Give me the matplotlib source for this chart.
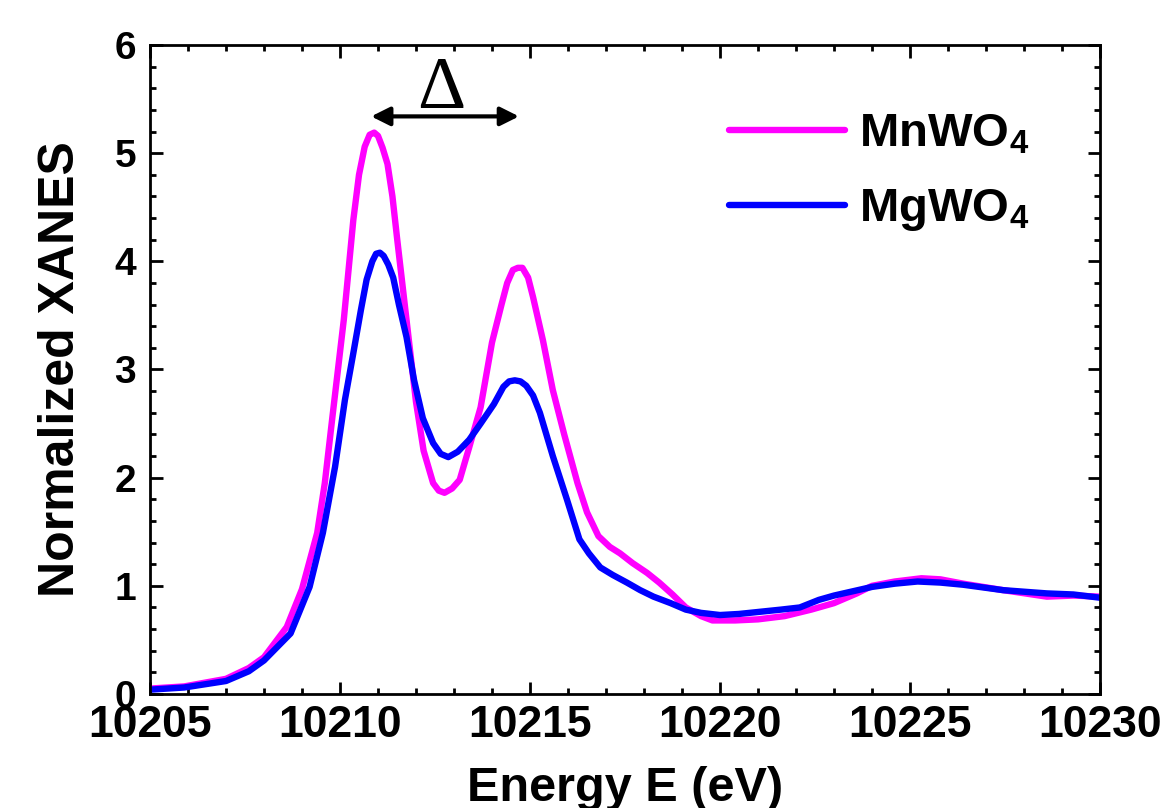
import numpy as np
import matplotlib
matplotlib.use('Agg')
from matplotlib import pyplot as plt
from matplotlib.ticker import MultipleLocator

# Fonts: bold Arial-like everywhere, mathtext subscripts in the same face
plt.rcParams['font.family'] = 'Liberation Sans'
plt.rcParams['font.weight'] = 'bold'
plt.rcParams['mathtext.fontset'] = 'custom'
plt.rcParams['mathtext.rm'] = 'Liberation Sans:bold'
plt.rcParams['mathtext.bf'] = 'Liberation Sans:bold'
plt.rcParams['mathtext.it'] = 'Liberation Sans:bold'

# Data
energy_mn = [10205.0, 10205.9, 10207.0, 10207.6, 10208.0, 10208.6, 10209.0, 10209.4,
             10209.6, 10209.8, 10210.1, 10210.35, 10210.5, 10210.65, 10210.78, 10210.9,
             10211.0, 10211.12, 10211.25, 10211.38, 10211.5, 10211.75, 10212.0, 10212.2,
             10212.45, 10212.6, 10212.75, 10212.95, 10213.15, 10213.4, 10213.7, 10214.0,
             10214.25, 10214.4, 10214.55, 10214.68, 10214.8, 10214.95, 10215.08, 10215.34,
             10215.6, 10215.9, 10216.25, 10216.5, 10216.8, 10217.1, 10217.37, 10217.7,
             10218.08, 10218.4, 10218.75, 10219.1, 10219.5, 10219.8, 10220.4, 10221.0,
             10221.7, 10222.4, 10223.0, 10223.6, 10224.0, 10224.6, 10225.3, 10225.8,
             10226.4, 10227.45, 10228.6, 10229.3, 10230.0]
xanes_mn = [0.05, 0.07, 0.14, 0.24, 0.34, 0.62, 0.97, 1.49,
            1.95, 2.56, 3.46, 4.38, 4.8, 5.06, 5.17, 5.19,
            5.16, 5.05, 4.9, 4.6, 4.22, 3.46, 2.7, 2.25,
            1.95, 1.88, 1.86, 1.9, 1.98, 2.28, 2.65, 3.25,
            3.6, 3.8, 3.92, 3.94, 3.94, 3.85, 3.67, 3.27,
            2.81, 2.4, 1.95, 1.68, 1.46, 1.36, 1.3, 1.21,
            1.12, 1.03, 0.92, 0.8, 0.72, 0.68, 0.68, 0.69,
            0.72, 0.78, 0.84, 0.93, 1.0, 1.04, 1.07, 1.06,
            1.02, 0.96, 0.9, 0.91, 0.9]

energy_mg = [10205.0, 10205.9, 10207.0, 10207.6, 10208.0, 10208.7, 10209.2, 10209.55,
             10209.87, 10210.13, 10210.35, 10210.55, 10210.7, 10210.85, 10210.95, 10211.05,
             10211.15, 10211.27, 10211.4, 10211.55, 10211.75, 10211.95, 10212.18, 10212.45,
             10212.65, 10212.85, 10213.1, 10213.4, 10213.7, 10214.05, 10214.3, 10214.45,
             10214.6, 10214.75, 10214.9, 10215.08, 10215.26, 10215.6, 10215.97, 10216.3,
             10216.55, 10216.85, 10217.18, 10217.55, 10217.9, 10218.25, 10218.7, 10219.1,
             10219.5, 10220.0, 10220.5, 10221.05, 10221.6, 10222.1, 10222.6, 10223.0,
             10223.5, 10224.0, 10224.6, 10225.2, 10225.8, 10226.4, 10227.45, 10228.6,
             10229.3, 10230.0]
xanes_mg = [0.04, 0.06, 0.12, 0.21, 0.31, 0.56, 0.99, 1.49,
            2.1, 2.72, 3.15, 3.55, 3.83, 4.0, 4.07, 4.08,
            4.05, 3.97, 3.85, 3.6, 3.3, 2.9, 2.55, 2.32,
            2.22, 2.19, 2.24, 2.35, 2.5, 2.68, 2.84, 2.89,
            2.9, 2.89, 2.85, 2.76, 2.6, 2.2, 1.8, 1.43,
            1.3, 1.17, 1.1, 1.03, 0.96, 0.9, 0.84, 0.78,
            0.75, 0.73, 0.74, 0.76, 0.78, 0.8, 0.87, 0.91,
            0.95, 0.99, 1.02, 1.04, 1.03, 1.01, 0.96, 0.93,
            0.92, 0.89]

labels = [r'MnWO$_4$', r'MgWO$_4$']
colors = ['#FF00FF', '#0000FF']

# Delta arrow span (peak-to-peak)
delta_start = 10210.82
delta_end = 10214.71
delta_level = 5.34

fig = plt.figure(figsize=(11.6, 8.08), dpi=100)
ax = fig.add_axes([0.1293, 0.1411, 0.8190, 0.8032])

ax.plot(energy_mn, xanes_mn, color=colors[0], lw=4.6, label=labels[0],
        solid_capstyle='round', solid_joinstyle='round')
ax.plot(energy_mg, xanes_mg, color=colors[1], lw=4.6, label=labels[1],
        solid_capstyle='round', solid_joinstyle='round')

ax.set_xlim(10205, 10230)
ax.set_ylim(0, 6)
ax.xaxis.set_major_locator(MultipleLocator(5))
ax.xaxis.set_minor_locator(MultipleLocator(1))
ax.yaxis.set_major_locator(MultipleLocator(1))
ax.yaxis.set_minor_locator(MultipleLocator(0.2))
ax.tick_params(which='both', direction='in', top=True, right=True, width=2)
ax.tick_params(which='major', length=9)
ax.tick_params(which='minor', length=4.5)
ax.tick_params(axis='x', labelsize=32, pad=8)
ax.tick_params(axis='y', labelsize=28, pad=10)
for spine in ax.spines.values():
    spine.set_linewidth(2)

ax.set_xlabel('Energy E (eV)', fontsize=35, fontweight='bold', labelpad=14)
ax.set_ylabel('Normalized XANES', fontsize=36, fontweight='bold', labelpad=22)

# Double-headed arrow with Delta
ax.annotate('', xy=(delta_end, delta_level), xytext=(delta_start, delta_level),
            arrowprops=dict(arrowstyle='<|-|>', color='black', lw=3, mutation_scale=28,
                            shrinkA=0, shrinkB=0))
ax.text((delta_start + delta_end) / 2 - 0.1, delta_level + 0.08, '\u0394',
        family='Liberation Serif', fontweight='normal', fontsize=54,
        ha='center', va='baseline')

leg = ax.legend(loc='upper left', bbox_to_anchor=(0.59, 0.925), frameon=False,
                fontsize=34, handlelength=2.45, handletextpad=0.3, labelspacing=0.65,
                borderaxespad=0)

fig.savefig('out.png', dpi=100)
